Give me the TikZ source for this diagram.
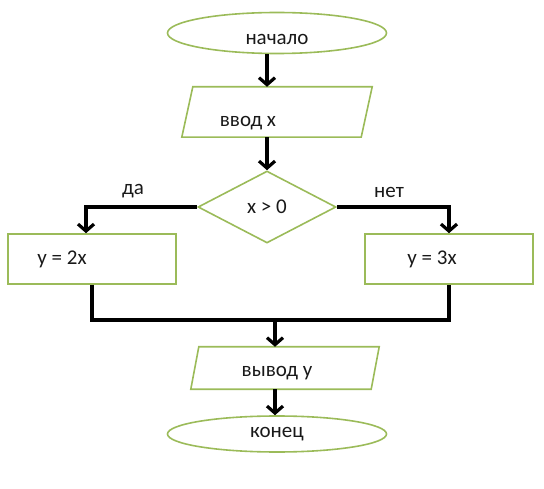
\documentclass[tikz,border=0pt]{standalone}
\usepackage{fontspec}
\setmainfont{Carlito}
\definecolor{leafgreen}{HTML}{9BBB59}
\usetikzlibrary{shapes.geometric, arrows.meta, positioning}

\begin{document}
\begin{tikzpicture}[x=1pt, y=-1pt, >={Straight Barb[length=7pt, width=16pt]},
	every node/.style={font=\fontsize{21}{24}\selectfont, text=black!90},
	Term/.style={ellipse, draw=leafgreen, line width=1.6pt, minimum width=219pt, inner sep=0pt},
	Data/.style={rectangle, inner sep=0pt},
	Frame/.style={draw=leafgreen, line width=1.6pt, line join=miter},
	Proc/.style={rectangle, draw=leafgreen, line width=1.6pt, minimum width=168pt, minimum height=50pt, inner sep=0pt},
	Link/.style={line width=3.2pt}]
\useasboundingbox (0,0) rectangle (544,489);
% blocks
\node[Term, minimum height=41pt, label={[yshift=-6.5pt]center:начало}] (start) at (277,33) {};
\node[Data, minimum width=190pt, minimum height=50pt, label={[xshift=-29pt, yshift=-11pt]center:ввод x}] (inp) at (277,112) {};
\draw[Frame] (inp.south west) -- ([xshift=11pt]inp.north west) -- (inp.north east) -- ([xshift=-11pt]inp.south east) -- cycle;
\node[diamond, draw=leafgreen, line width=1.6pt, minimum width=138pt, minimum height=72pt, inner sep=0pt] (dec) at (267,207) {x > 0};
\node[Proc, label={[xshift=-30pt]center:y = 2x}] (yes) at (92,259) {};
\node[Proc, label={[xshift=-17pt]center:y = 3x}] (no) at (449,259) {};
\node[Data, minimum width=188pt, minimum height=42pt, label={[xshift=-8pt, yshift=-5pt]center:вывод y}] (outp) at (285,368) {};
\draw[Frame] (outp.south west) -- ([xshift=8pt]outp.north west) -- (outp.north east) -- ([xshift=-8pt]outp.south east) -- cycle;
\node[Term, minimum height=36pt] (fin) at (277,434) {конец};
\node (lyes) at (133,191) {да};
\node (lno) at (389,192) {нет};
\coordinate (mrg) at (275,320);
% connectors
\draw[Link,->] (start.south -| dec) -- (inp.north -| dec);
\draw[Link,->] (inp.south -| dec) -- (dec.north);
\draw[Link,->] (dec.west) -| ([xshift=-6pt]yes.north);
\draw[Link,->] (dec.east) -| (no.north);
\draw[Link] (yes.south) |- (mrg) -| (no.south);
\draw[Link,->] (mrg) -- (outp.north -| mrg);
\draw[Link,->] (outp.south -| mrg) -- (fin.north -| mrg);
\end{tikzpicture}
\end{document}
